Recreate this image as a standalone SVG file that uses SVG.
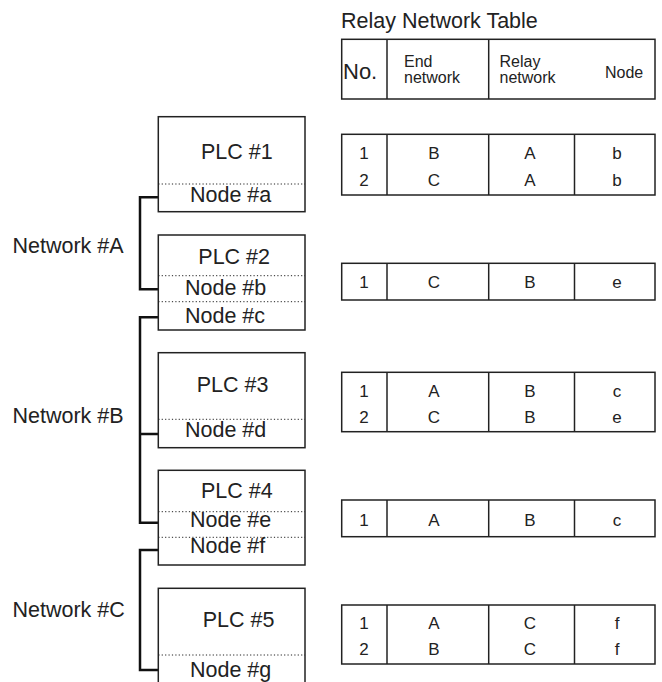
<svg xmlns="http://www.w3.org/2000/svg" width="662" height="682" viewBox="0 0 662 682">
<style>
  text { font-family: "Liberation Sans", Arial, Helvetica, sans-serif; fill: #222; }
  .box { fill: #fff; stroke: #222; stroke-width: 1.5; }
  .dot { stroke: #222; stroke-width: 1; stroke-dasharray: 1.2 2.2; fill: none; }
  .conn { stroke: #111; stroke-width: 2.5; fill: none; }
  .big { font-size: 21.5px; }
  .lbl { font-size: 21.5px; }
  .hd { font-size: 16px; }
  .cell { font-size: 17px; text-anchor: middle; }
  .tl { fill: none; stroke: #222; stroke-width: 1.5; }
</style>
<rect width="662" height="682" fill="#fff"/>

<g id="connectors">
  <path class="conn" d="M158.3,197.3 H140 V289.3 H158.3"/>
  <path class="conn" d="M158.3,317.3 H140 V522.7 H158.3 M140,434 H158.3"/>
  <path class="conn" d="M158.3,550 H140 V670 H158.3"/>
</g>

<g id="network-labels">
  <text class="lbl" x="12.5" y="253.3">Network #A</text>
  <text class="lbl" x="12.5" y="423.3">Network #B</text>
  <text class="lbl" x="12.5" y="617">Network #C</text>
</g>

<g id="plc1">
  <rect class="box" x="158.3" y="116.7" width="146.7" height="95"/>
  <line class="dot" x1="158.3" y1="184" x2="305" y2="184"/>
  <text class="big" x="201" y="159.3">PLC #1</text>
  <text class="lbl" x="190" y="201.7">Node #a</text>
</g>
<g id="plc2">
  <rect class="box" x="158.3" y="235" width="146.7" height="95"/>
  <line class="dot" x1="158.3" y1="275.7" x2="305" y2="275.7"/>
  <line class="dot" x1="158.3" y1="301.7" x2="305" y2="301.7"/>
  <text class="big" x="198.3" y="264">PLC #2</text>
  <text class="lbl" x="185" y="295">Node #b</text>
  <text class="lbl" x="185" y="322.7">Node #c</text>
</g>
<g id="plc3">
  <rect class="box" x="158.3" y="352.7" width="146.7" height="95"/>
  <line class="dot" x1="158.3" y1="419.3" x2="305" y2="419.3"/>
  <text class="big" x="196.7" y="391.7">PLC #3</text>
  <text class="lbl" x="185" y="437.3">Node #d</text>
</g>
<g id="plc4">
  <rect class="box" x="158.3" y="470.3" width="146.7" height="94.7"/>
  <line class="dot" x1="158.3" y1="511.7" x2="305" y2="511.7"/>
  <line class="dot" x1="158.3" y1="537.3" x2="305" y2="537.3"/>
  <text class="big" x="201" y="497.7">PLC #4</text>
  <text class="lbl" x="190" y="526.7">Node #e</text>
  <text class="lbl" x="190" y="553.3">Node #f</text>
</g>
<g id="plc5">
  <rect class="box" x="158.3" y="588.3" width="146.7" height="110"/>
  <line class="dot" x1="158.3" y1="655" x2="305" y2="655"/>
  <text class="big" x="202.7" y="627.3">PLC #5</text>
  <text class="lbl" x="190" y="676.5">Node #g</text>
</g>

<g id="table-header">
  <text class="big" x="341" y="28.3">Relay Network Table</text>
  <rect class="tl" x="341.7" y="39.3" width="313.3" height="59.7"/>
  <line class="tl" x1="387" y1="39.3" x2="387" y2="99"/>
  <line class="tl" x1="488.7" y1="39.3" x2="488.7" y2="99"/>
  <text style="font-size:22px" x="343" y="79.3">No.</text>
  <text class="hd" x="404" y="66.7">End</text>
  <text class="hd" x="404" y="83.3">network</text>
  <text class="hd" x="499.5" y="66.7">Relay</text>
  <text class="hd" x="499.5" y="83.3">network</text>
  <text class="hd" x="605" y="78.3">Node</text>
</g>

<g id="table-plc1">
  <rect class="tl" x="341.7" y="134.3" width="313.3" height="60.7"/>
  <line class="tl" x1="387" y1="134.3" x2="387" y2="195"/>
  <line class="tl" x1="488.7" y1="134.3" x2="488.7" y2="195"/>
  <line class="tl" x1="574.5" y1="134.3" x2="574.5" y2="195"/>
  <text class="cell" x="364" y="159">1</text>
  <text class="cell" x="434" y="159">B</text>
  <text class="cell" x="530" y="159">A</text>
  <text class="cell" x="617" y="159">b</text>
  <text class="cell" x="364" y="185.5">2</text>
  <text class="cell" x="434" y="185.5">C</text>
  <text class="cell" x="530" y="185.5">A</text>
  <text class="cell" x="617" y="185.5">b</text>
</g>

<g id="table-plc2">
  <rect class="tl" x="341.7" y="263.3" width="313.3" height="36.7"/>
  <line class="tl" x1="387" y1="263.3" x2="387" y2="300"/>
  <line class="tl" x1="488.7" y1="263.3" x2="488.7" y2="300"/>
  <line class="tl" x1="574.5" y1="263.3" x2="574.5" y2="300"/>
  <text class="cell" x="364" y="288.3">1</text>
  <text class="cell" x="434" y="288.3">C</text>
  <text class="cell" x="530" y="288.3">B</text>
  <text class="cell" x="617" y="288.3">e</text>
</g>

<g id="table-plc3">
  <rect class="tl" x="341.7" y="372.3" width="313.3" height="59.4"/>
  <line class="tl" x1="387" y1="372.3" x2="387" y2="431.7"/>
  <line class="tl" x1="488.7" y1="372.3" x2="488.7" y2="431.7"/>
  <line class="tl" x1="574.5" y1="372.3" x2="574.5" y2="431.7"/>
  <text class="cell" x="364" y="396.7">1</text>
  <text class="cell" x="434" y="396.7">A</text>
  <text class="cell" x="530" y="396.7">B</text>
  <text class="cell" x="617" y="396.7">c</text>
  <text class="cell" x="364" y="422.7">2</text>
  <text class="cell" x="434" y="422.7">C</text>
  <text class="cell" x="530" y="422.7">B</text>
  <text class="cell" x="617" y="422.7">e</text>
</g>

<g id="table-plc4">
  <rect class="tl" x="341.7" y="500" width="313.3" height="36.7"/>
  <line class="tl" x1="387" y1="500" x2="387" y2="536.7"/>
  <line class="tl" x1="488.7" y1="500" x2="488.7" y2="536.7"/>
  <line class="tl" x1="574.5" y1="500" x2="574.5" y2="536.7"/>
  <text class="cell" x="364" y="525.7">1</text>
  <text class="cell" x="434" y="525.7">A</text>
  <text class="cell" x="530" y="525.7">B</text>
  <text class="cell" x="617" y="525.7">c</text>
</g>

<g id="table-plc5">
  <rect class="tl" x="341.7" y="605" width="313.3" height="59"/>
  <line class="tl" x1="387" y1="605" x2="387" y2="664"/>
  <line class="tl" x1="488.7" y1="605" x2="488.7" y2="664"/>
  <line class="tl" x1="574.5" y1="605" x2="574.5" y2="664"/>
  <text class="cell" x="364" y="628.5">1</text>
  <text class="cell" x="434" y="628.5">A</text>
  <text class="cell" x="530" y="628.5">C</text>
  <text class="cell" x="617" y="628.5">f</text>
  <text class="cell" x="364" y="655">2</text>
  <text class="cell" x="434" y="655">B</text>
  <text class="cell" x="530" y="655">C</text>
  <text class="cell" x="617" y="655">f</text>
</g>
</svg>
